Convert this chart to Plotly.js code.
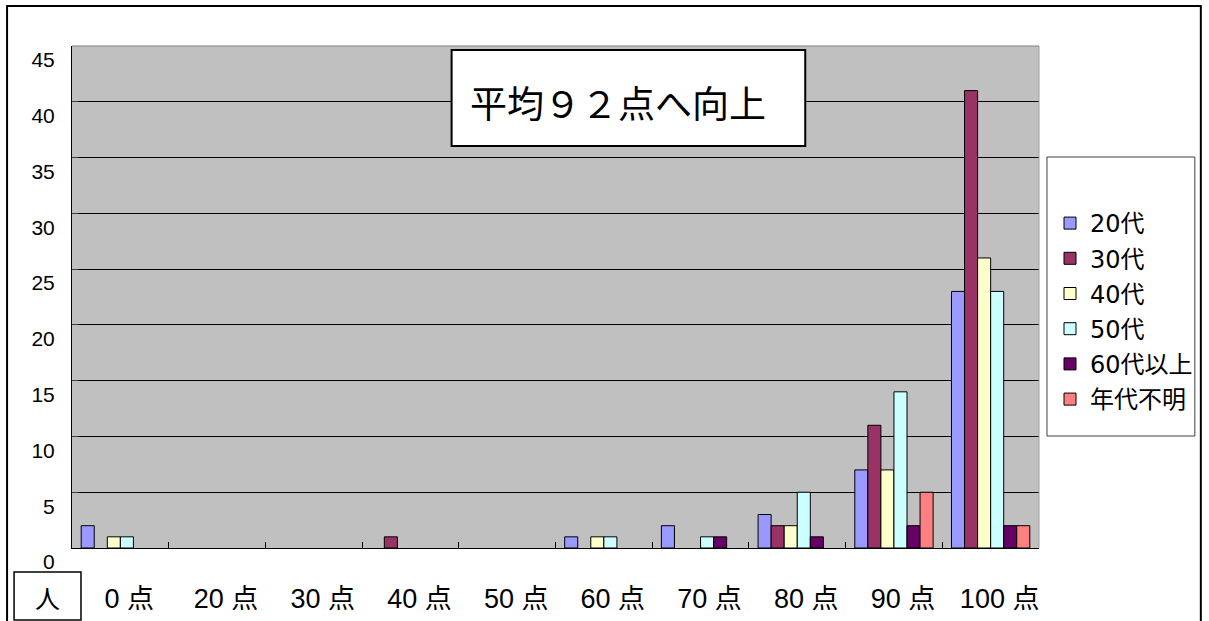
<!DOCTYPE html>
<html>
<head>
<meta charset="utf-8">
<script src="https://cdn.plot.ly/plotly-3.0.1.min.js"></script>
<style>
html,body{margin:0;padding:0;background:#fff;}
#chart{position:absolute;left:0;top:0;width:1209px;height:621px;}
</style>
</head>
<body>
<div id="chart"></div>
<script>
// ---- data ----
var categories = ["0 点", "20 点", "30 点", "40 点", "50 点", "60 点", "70 点", "80 点", "90 点", "100 点"];
var seriesNames = ["20代", "30代", "40代", "50代", "60代以上", "年代不明"];
var s20  = [2, 0, 0, 0, 0, 1, 2, 3, 7, 23];
var s30  = [0, 0, 0, 1, 0, 0, 0, 2, 11, 41];
var s40  = [1, 0, 0, 0, 0, 1, 0, 2, 7, 26];
var s50  = [1, 0, 0, 0, 0, 1, 1, 5, 14, 23];
var s60  = [0, 0, 0, 0, 0, 0, 1, 1, 2, 2];
var sUnk = [0, 0, 0, 0, 0, 0, 0, 0, 5, 2];
var yTicks = [0, 5, 10, 15, 20, 25, 30, 35, 40, 45];
var titleText = "平均９２点へ向上";
var unitText = "人";

var seriesValues = [s20, s30, s40, s50, s60, sUnk];
var colors = ["#9999FF", "#993366", "#FFFFCC", "#CCFFFF", "#660066", "#FF8080"];

// plot area geometry (pixels)
var L = 72, R = 1040, T = 46, B = 548, W = 1209, H = 621;
function px(x){ return (x - L) / (R - L); }
function py(y){ return (B - y) / (B - T); }

var traces = seriesValues.map(function(v, i){
  return {
    type: "bar",
    name: seriesNames[i],
    x: categories,
    // zero counts draw no bar (no outline stub)
    y: v.map(function(d){ return d === 0 ? null : d; }),
    legendgroup: "g" + i,
    marker: {color: colors[i], line: {color: "#000000", width: 1}},
    hoverinfo: "x+y+name"
  };
});

var layout = {
  width: W, height: H,
  margin: {l: L, r: W - R, t: T, b: H - B, pad: 0},
  paper_bgcolor: "#ffffff",
  plot_bgcolor: "#C0C0C0",
  barmode: "group",
  bargap: 0.19,
  bargroupgap: 0,
  font: {family: "Liberation Sans, Noto Sans CJK JP, sans-serif", color: "#000000"},
  xaxis: {
    type: "category",
    tickson: "boundaries",
    ticks: "inside",
    ticklen: 6,
    tickcolor: "#000000",
    showline: true,
    linecolor: "#000000",
    linewidth: 1,
    showgrid: false,
    tickfont: {size: 27, family: "Liberation Sans Narrow, Liberation Sans, Noto Sans CJK JP, sans-serif", color: "#000000"},
    ticklabelstandoff: 27,
    ticklabelshift: 9,
    fixedrange: true
  },
  yaxis: {
    range: [0, 45],
    tickvals: yTicks,
    ticktext: yTicks.map(String),
    ticks: "inside",
    ticklen: 6,
    tickcolor: "#404040",
    showline: true,
    linecolor: "#000000",
    linewidth: 1,
    showgrid: true,
    gridcolor: "#000000",
    gridwidth: 1,
    zeroline: false,
    tickfont: {size: 21, family: "Liberation Sans, sans-serif", color: "#000000"},
    ticklabelstandoff: 12,
    ticklabelshift: 14,
    fixedrange: true
  },
  showlegend: true,
  legend: {
    x: px(1050), y: py(201), xanchor: "left", yanchor: "top",
    bgcolor: "rgba(0,0,0,0)",
    borderwidth: 0,
    tracegroupgap: 1,
    traceorder: "grouped",
    font: {size: 24, family: "DejaVu Sans, Noto Sans CJK JP, sans-serif", color: "#000000"},
    itemwidth: 30
  },
  shapes: [
    // outer frame
    {type: "rect", xref: "paper", yref: "paper", x0: px(7), x1: px(1202), y0: py(640), y1: py(6),
     line: {color: "#000000", width: 2}, fillcolor: "rgba(0,0,0,0)", layer: "above"},
    // plot area light border
    {type: "line", xref: "paper", yref: "paper", x0: 1, x1: 1, y0: 0, y1: 1,
     line: {color: "#A0A0A0", width: 1}, layer: "above"},
    {type: "line", xref: "paper", yref: "paper", x0: 0, x1: 1, y0: 1, y1: 1,
     line: {color: "#808080", width: 1}, layer: "above"},
    // title box
    {type: "rect", xref: "paper", yref: "paper", x0: px(452), x1: px(806), y0: py(146), y1: py(50),
     line: {color: "#000000", width: 2}, fillcolor: "#ffffff", layer: "above"},
    // legend box
    {type: "rect", xref: "paper", yref: "paper", x0: px(1048), x1: px(1196), y0: py(436), y1: py(157),
     line: {color: "#404040", width: 1}, fillcolor: "#ffffff", layer: "below"},
    // unit box
    {type: "rect", xref: "paper", yref: "paper", x0: px(14), x1: px(81), y0: py(620), y1: py(572),
     line: {color: "#000000", width: 1.5}, fillcolor: "rgba(0,0,0,0)", layer: "above"}
  ],
  annotations: [
    {xref: "paper", yref: "paper", x: px(619), y: py(102), xanchor: "center", yanchor: "middle",
     text: titleText, showarrow: false,
     font: {size: 37, family: "Noto Sans CJK JP, sans-serif", color: "#000000"}},
    {xref: "paper", yref: "paper", x: px(47.5), y: py(597), xanchor: "center", yanchor: "middle",
     text: unitText, showarrow: false,
     font: {size: 25, family: "Noto Sans CJK JP, sans-serif", color: "#000000"}}
  ]
};

Plotly.newPlot("chart", traces, layout, {displayModeBar: false, staticPlot: true});
</script>
</body>
</html>
